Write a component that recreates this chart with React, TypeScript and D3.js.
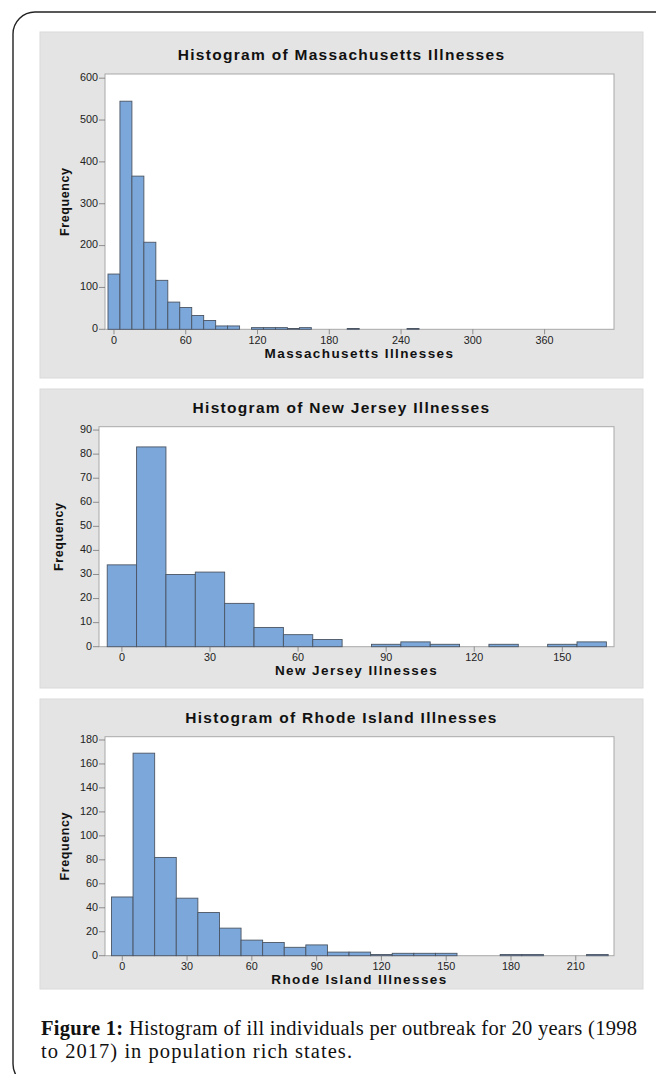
import React from 'react';
import * as d3 from 'd3';

// counts per bin of width 10, bin i centred on i * 10
const maCounts = [132, 545, 366, 208, 117, 65, 52, 33, 21, 8, 8, 0, 4, 4, 4, 2, 4, 0, 0, 0, 2, 0, 0, 0, 0, 2];
const njCounts = [34, 83, 30, 31, 18, 8, 5, 3, 0, 1, 2, 1, 0, 1, 0, 1, 2];
const riCounts = [49, 169, 82, 48, 36, 23, 13, 11, 7, 9, 3, 3, 1, 2, 2, 2, 0, 0, 1, 1, 0, 0, 1];

const maXTicks = [0, 60, 120, 180, 240, 300, 360];
const maYTicks = [0, 100, 200, 300, 400, 500, 600];
const njXTicks = [0, 30, 60, 90, 120, 150];
const njYTicks = [0, 10, 20, 30, 40, 50, 60, 70, 80, 90];
const riXTicks = [0, 30, 60, 90, 120, 150, 180, 210];
const riYTicks = [0, 20, 40, 60, 80, 100, 120, 140, 160, 180];

const BIN = 10;
const SANS = '"Liberation Sans", Arial, sans-serif';
const SERIF = '"Liberation Serif", "Times New Roman", serif';

type PanelProps = {
  title: string;
  xLabel: string;
  counts: number[];
  xTicks: number[];
  yTicks: number[];
  xDomain: [number, number];
  yMax: number;
  box: { top: number; bottom: number };
  plot: { left: number; right: number; top: number; bottom: number };
  titleY: number;
};

const Panel = ({ title, xLabel, counts, xTicks, yTicks, xDomain, yMax, box, plot, titleY }: PanelProps) => {
  const x = d3.scaleLinear().domain(xDomain).range([plot.left, plot.right]);
  const y = d3.scaleLinear().domain([0, yMax]).range([plot.bottom, plot.top]);
  // empty bins draw nothing, like Minitab
  const bins = counts
    .map((c, i) => ({ x0: i * BIN - BIN / 2, x1: i * BIN + BIN / 2, c }))
    .filter(d => d.c > 0);
  const midX = (plot.left + plot.right) / 2;
  const midY = (plot.top + plot.bottom) / 2;

  return (
    <g>
      <rect x={40} y={box.top} width={603} height={box.bottom - box.top} fill="#e4e4e4" stroke="#dadada" strokeWidth={1} />
      <text x={341.5} y={titleY} textAnchor="middle" dominantBaseline="middle"
        fontFamily={SANS} fontWeight="bold" fontSize={15.5} letterSpacing={1.3} fill="#111">{title}</text>
      <rect x={plot.left} y={plot.top} width={plot.right - plot.left} height={plot.bottom - plot.top}
        fill="#ffffff" stroke="#a8a8a8" strokeWidth={1} />
      {bins.map((d, i) => (
        <rect key={i} x={x(d.x0)} y={y(d.c)} width={x(d.x1) - x(d.x0)} height={y(0) - y(d.c)}
          fill="#7ba7db" stroke="#4b5563" strokeWidth={0.9} />
      ))}
      {yTicks.map(t => (
        <g key={'y' + t}>
          <line x1={plot.left - 6} x2={plot.left} y1={y(t)} y2={y(t)} stroke="#777" strokeWidth={0.8} />
          <text x={plot.left - 7} y={y(t)} textAnchor="end" dominantBaseline="middle"
            fontFamily={SANS} fontSize={10.8} fill="#222">{t}</text>
        </g>
      ))}
      {xTicks.map(t => (
        <g key={'x' + t}>
          <line x1={x(t)} x2={x(t)} y1={plot.bottom} y2={plot.bottom + 5} stroke="#777" strokeWidth={0.8} />
          <text x={x(t)} y={plot.bottom + 11.5} textAnchor="middle" dominantBaseline="middle"
            fontFamily={SANS} fontSize={10.8} fill="#222">{t}</text>
        </g>
      ))}
      <text x={midX} y={plot.bottom + 25} textAnchor="middle" dominantBaseline="middle"
        fontFamily={SANS} fontWeight="bold" fontSize={13.5} letterSpacing={1.4} fill="#111">{xLabel}</text>
      <text transform={`translate(${plot.left - 39},${midY}) rotate(-90)`} textAnchor="middle" dominantBaseline="middle"
        fontFamily={SANS} fontWeight="bold" fontSize={12.5} letterSpacing={0.6} fill="#111">Frequency</text>
    </g>
  );
};

export default function App() {
  return (
    <div style={{ position: 'absolute', left: 0, top: 0 }}>
      <svg width={656} height={1074} style={{ display: 'block', background: '#fff' }}>
        <rect x={13} y={12} width={720} height={1074} rx={22} fill="none" stroke="#222" strokeWidth={1.4} />
        <Panel title="Histogram of Massachusetts Illnesses" xLabel="Massachusetts Illnesses"
          counts={maCounts} xTicks={maXTicks} yTicks={maYTicks} xDomain={[-7.5, 418]} yMax={610}
          box={{ top: 32, bottom: 378 }} plot={{ left: 105, right: 614, top: 74, bottom: 329.3 }} titleY={56} />
        <Panel title="Histogram of New Jersey Illnesses" xLabel="New Jersey Illnesses"
          counts={njCounts} xTicks={njXTicks} yTicks={njYTicks} xDomain={[-7.8, 167.6]} yMax={91.4}
          box={{ top: 389, bottom: 688 }} plot={{ left: 99, right: 614, top: 426.7, bottom: 646.7 }} titleY={409} />
        <Panel title="Histogram of Rhode Island Illnesses" xLabel="Rhode Island Illnesses"
          counts={riCounts} xTicks={riXTicks} yTicks={riYTicks} xDomain={[-8, 227.7]} yMax={182.75}
          box={{ top: 699, bottom: 989 }} plot={{ left: 105, right: 614, top: 736.7, bottom: 955.7 }} titleY={719} />
        <text x={41} y={1035} fontFamily={SERIF} fontSize={20.5} fill="#111" textLength={596} lengthAdjust="spacing">
          <tspan fontWeight="bold">Figure 1:</tspan> Histogram of ill individuals per outbreak for 20 years (1998
        </text>
        <text x={41} y={1058} fontFamily={SERIF} fontSize={20.5} fill="#111" textLength={311} lengthAdjust="spacing">
          to 2017) in population rich states.
        </text>
      </svg>
    </div>
  );
}
